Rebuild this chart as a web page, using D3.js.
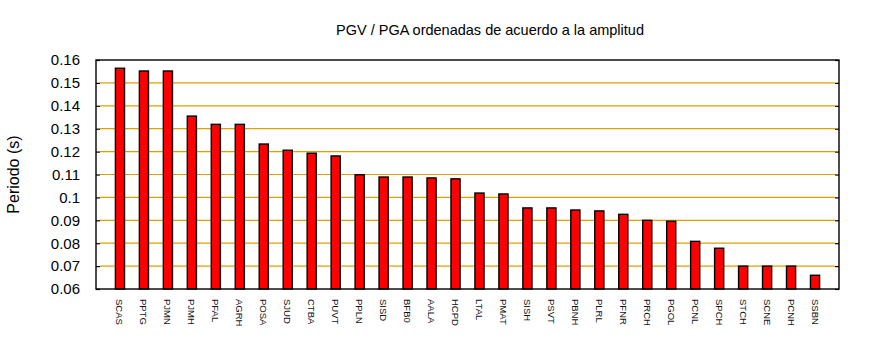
<!DOCTYPE html>
<html>
<head>
<meta charset="utf-8">
<script src="https://cdn.jsdelivr.net/npm/d3@7"></script>
<style>
  html, body { margin: 0; padding: 0; background: #fff; }
  svg { display: block; font-family: "Liberation Sans", Arial, sans-serif; }
</style>
</head>
<body>
<svg id="chart" width="870" height="350"></svg>
<script>
// Station codes, ordered by amplitude
const stations = ["SCAS","PPTG","PJMN","PJMH","PFAL","AGRH","POSA","SJUD","CTBA","PUVT",
  "PPLN","SISD","BFB0","AALA","HCPD","LTAL","PMAT","SISH","PSVT","PBNH",
  "PLRL","PFNR","PRCH","PGOL","PCNL","SPCH","STCH","SCNE","PCNH","SSBN"];

// PGV / PGA ratio per station (s)
const periods = [0.1564,0.1552,0.1552,0.1355,0.1319,0.1319,0.1233,0.1206,0.1193,0.1181,
  0.1099,0.1089,0.1089,0.1085,0.1081,0.1019,0.1015,0.0954,0.0954,0.0945,
  0.0941,0.0926,0.0900,0.0896,0.0808,0.0778,0.0700,0.0700,0.0700,0.0660];

const yTicks = [0.06,0.07,0.08,0.09,0.10,0.11,0.12,0.13,0.14,0.15,0.16];
const yTickLabels = ["0.06","0.07","0.08","0.09","0.1","0.11","0.12","0.13","0.14","0.15","0.16"];

const svg = d3.select("#chart");
const plotL = 96, plotR = 839, plotT = 60, plotB = 289;

const x = d3.scaleLinear().domain([-1, stations.length]).range([plotL, plotR]);
const y = d3.scaleLinear().domain([0.06, 0.16]).range([plotB, plotT]);
const boxW = x(0.38) - x(0);

// Title
svg.append("text")
  .attr("x", 490).attr("y", 35)
  .attr("text-anchor", "middle")
  .attr("font-size", 14.5)
  .attr("fill", "#000")
  .text("PGV / PGA ordenadas de acuerdo a la amplitud");

// Y axis title
svg.append("text")
  .attr("transform", `translate(19,${(plotT + plotB) / 2}) rotate(-90)`)
  .attr("text-anchor", "middle")
  .attr("font-size", 16)
  .attr("fill", "#000")
  .text("Periodo (s)");

// Horizontal grid lines
const gridVals = yTicks.filter(v => v > 0.0601 && v < 0.1599);
svg.append("g").selectAll("line")
  .data(gridVals)
  .join("line")
  .attr("x1", plotL + 4).attr("x2", plotR - 4)
  .attr("y1", d => y(d)).attr("y2", d => y(d))
  .attr("stroke", "#e0a000")
  .attr("stroke-width", 1.2);

// Left axis with inward ticks
const yAxisL = d3.axisLeft(y)
  .tickValues(yTicks)
  .tickFormat((d, i) => yTickLabels[i])
  .tickSize(-4)
  .tickPadding(16);
const gL = svg.append("g").attr("transform", `translate(${plotL},0)`).call(yAxisL);
gL.select(".domain").remove();
gL.selectAll(".tick line").attr("stroke", "#000").attr("stroke-width", 1.2);
gL.selectAll(".tick text").attr("font-size", 15).attr("fill", "#000")
  .attr("font-family", "Liberation Sans, Arial, sans-serif");

// Right axis, inward ticks only
const yAxisR = d3.axisRight(y).tickValues(yTicks).tickFormat("").tickSize(-4);
const gR = svg.append("g").attr("transform", `translate(${plotR},0)`).call(yAxisR);
gR.select(".domain").remove();
gR.selectAll(".tick line").attr("stroke", "#000").attr("stroke-width", 1.2);

// Bars
svg.append("g").selectAll("rect")
  .data(periods)
  .join("rect")
  .attr("x", (d, i) => x(i) - boxW / 2)
  .attr("width", boxW)
  .attr("y", d => y(d))
  .attr("height", d => y(0.06) - y(d))
  .attr("fill", "#ff0000")
  .attr("stroke", "#000")
  .attr("stroke-width", 1.4);

// Plot frame
svg.append("rect")
  .attr("x", plotL).attr("y", plotT)
  .attr("width", plotR - plotL).attr("height", plotB - plotT)
  .attr("fill", "none")
  .attr("stroke", "#000")
  .attr("stroke-width", 1.4);

// Station labels, rotated to read downward
svg.append("g").selectAll("text")
  .data(stations)
  .join("text")
  .attr("transform", (d, i) => `translate(${x(i) - 3.5},299) rotate(90)`)
  .attr("font-size", 9.5)
  .attr("fill", "#111")
  .text(d => d);
</script>
</body>
</html>
